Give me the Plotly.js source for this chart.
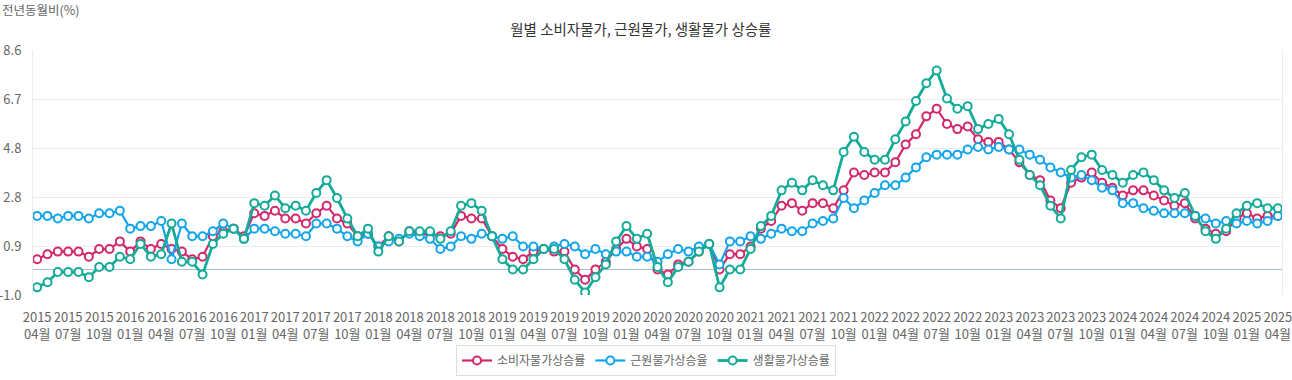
<!DOCTYPE html>
<html>
<head>
<meta charset="utf-8">
<script src="https://cdn.plot.ly/plotly-3.0.1.min.js"></script>
<style>
  html, body { margin: 0; padding: 0; background: #fff; }
  #chart { width: 1292px; height: 380px; }
</style>
</head>
<body>
<div id="chart"></div>
<script>
// Months (categories)
const months = [
  '2015-04','2015-05','2015-06','2015-07','2015-08','2015-09','2015-10','2015-11','2015-12',
  '2016-01','2016-02','2016-03','2016-04','2016-05','2016-06','2016-07','2016-08','2016-09','2016-10','2016-11','2016-12',
  '2017-01','2017-02','2017-03','2017-04','2017-05','2017-06','2017-07','2017-08','2017-09','2017-10','2017-11','2017-12',
  '2018-01','2018-02','2018-03','2018-04','2018-05','2018-06','2018-07','2018-08','2018-09','2018-10','2018-11','2018-12',
  '2019-01','2019-02','2019-03','2019-04','2019-05','2019-06','2019-07','2019-08','2019-09','2019-10','2019-11','2019-12',
  '2020-01','2020-02','2020-03','2020-04','2020-05','2020-06','2020-07','2020-08','2020-09','2020-10','2020-11','2020-12',
  '2021-01','2021-02','2021-03','2021-04','2021-05','2021-06','2021-07','2021-08','2021-09','2021-10','2021-11','2021-12',
  '2022-01','2022-02','2022-03','2022-04','2022-05','2022-06','2022-07','2022-08','2022-09','2022-10','2022-11','2022-12',
  '2023-01','2023-02','2023-03','2023-04','2023-05','2023-06','2023-07','2023-08','2023-09','2023-10','2023-11','2023-12',
  '2024-01','2024-02','2024-03','2024-04','2024-05','2024-06','2024-07','2024-08','2024-09','2024-10','2024-11','2024-12',
  '2025-01','2025-02','2025-03','2025-04'
];

// 소비자물가상승률 (%)
const cpi = [
  0.4,0.6,0.7,0.7,0.7,0.5,0.8,0.8,1.1,
  0.7,1.1,0.8,1.0,0.8,0.7,0.4,0.5,1.3,1.5,1.6,1.3,
  2.2,2.1,2.3,2.0,2.0,1.8,2.2,2.5,2.0,1.8,1.3,1.4,
  0.9,1.3,1.1,1.5,1.4,1.4,1.3,1.4,2.1,2.0,2.0,1.3,
  0.8,0.5,0.4,0.7,0.8,0.7,0.7,0.0,-0.4,0.0,0.3,0.8,
  1.2,0.9,0.8,0.0,-0.2,0.2,0.3,0.7,1.0,0.0,0.6,0.6,
  0.9,1.6,1.9,2.5,2.6,2.3,2.6,2.6,2.4,3.1,3.8,3.7,
  3.8,3.8,4.2,4.9,5.3,6.0,6.3,5.7,5.5,5.6,5.1,5.0,
  5.0,4.7,4.2,3.7,3.5,2.7,2.4,3.4,3.6,3.8,3.4,3.2,
  2.9,3.1,3.1,2.9,2.7,2.5,2.6,2.0,1.6,1.4,1.5,2.0,
  2.2,2.0,2.1,2.1
];

// 근원물가상승율 (%)
const core = [
  2.1,2.1,2.0,2.1,2.1,2.0,2.2,2.2,2.3,
  1.6,1.7,1.7,1.9,0.4,1.8,1.3,1.3,1.5,1.8,1.6,1.2,
  1.6,1.6,1.5,1.4,1.4,1.3,1.8,1.8,1.6,1.3,1.1,1.4,
  0.9,1.1,1.2,1.4,1.3,1.2,0.8,0.9,1.3,1.2,1.4,1.3,
  1.2,1.3,0.9,0.9,0.8,0.9,1.0,0.9,0.6,0.8,0.6,0.7,
  0.7,0.5,0.5,0.3,0.6,0.8,0.7,0.9,1.0,0.2,1.1,1.1,
  1.3,1.2,1.4,1.6,1.5,1.5,1.8,1.9,2.0,2.8,2.4,2.7,
  3.0,3.3,3.3,3.6,4.0,4.4,4.5,4.5,4.5,4.7,4.8,4.7,
  4.8,4.7,4.7,4.5,4.3,4.0,3.8,3.6,3.7,3.5,3.2,3.1,
  2.6,2.6,2.4,2.3,2.2,2.2,2.2,2.1,2.0,1.8,1.9,1.8,
  1.9,1.8,1.9,2.1
];

// 생활물가상승률 (%)
const living = [
  -0.7,-0.5,-0.1,-0.1,-0.1,-0.3,0.1,0.1,0.5,
  0.4,1.0,0.5,0.6,1.8,0.3,0.3,-0.2,1.0,1.4,1.6,1.2,
  2.6,2.5,2.9,2.4,2.5,2.3,3.0,3.5,2.8,2.0,1.3,1.6,
  0.7,1.3,1.1,1.5,1.5,1.5,1.2,1.5,2.5,2.6,2.3,1.3,
  0.4,0.0,0.0,0.4,0.8,0.8,0.4,-0.4,-0.9,-0.3,0.2,1.1,
  1.7,1.2,1.4,0.1,-0.5,0.1,0.3,0.7,1.0,-0.7,0.0,0.0,
  0.8,1.7,2.1,3.1,3.4,3.1,3.5,3.3,3.1,4.6,5.2,4.6,
  4.3,4.3,5.1,5.8,6.6,7.3,7.8,6.7,6.3,6.4,5.5,5.7,
  5.9,5.3,4.3,3.7,3.3,2.5,2.0,3.9,4.4,4.5,3.9,3.7,
  3.4,3.7,3.8,3.5,3.1,2.8,3.0,2.1,1.5,1.2,1.6,2.2,
  2.5,2.6,2.4,2.4
];

const seriesNames = ['소비자물가상승률', '근원물가상승율', '생활물가상승률'];
const seriesColors = ['#d2286c', '#12a5ec', '#14ab98'];

// Y axis ticks
const yTickVals = [-1.0, 0.92, 2.84, 4.76, 6.68, 8.6];
const yTickText = ['-1.0', '0.9', '2.8', '4.8', '6.7', '8.6'];

// X tick labels: every 3rd month
const xTickVals = months.filter((m, i) => i % 3 === 0);
const xTickText = xTickVals.map(m => m.slice(0, 4) + '<br>' + m.slice(5) + '월');

const FONT = '"Liberation Sans Narrow", "Noto Sans CJK KR", sans-serif';
const KFONT = '"Noto Sans CJK KR", sans-serif';

function mk(y, i, w) {
  return {
    x: months, y: y, name: seriesNames[i], type: 'scatter', mode: 'lines+markers',
    line: { color: seriesColors[i], width: w },
    marker: { symbol: 'circle', size: 8, color: '#ffffff', line: { color: seriesColors[i], width: 2 } },
    hoverinfo: 'x+y+name'
  };
}

const data = [mk(cpi, 0, 2.2), mk(core, 1, 2.2), mk(living, 2, 2.8)];

const layout = {
  width: 1292, height: 380,
  margin: { l: 33, r: 10, t: 50, b: 85, autoexpand: false },
  paper_bgcolor: '#ffffff', plot_bgcolor: '#ffffff',
  font: { family: KFONT, color: '#666666', size: 12 },
  title: {
    text: '월별 소비자물가, 근원물가, 생활물가 상승률',
    font: { family: KFONT, size: 14.5, color: '#333333' },
    x: 0.496, xanchor: 'center', xref: 'container',
    y: 1 - 30 / 380, yanchor: 'middle', yref: 'container'
  },
  xaxis: {
    type: 'category',
    range: [-0.4, 120.4],
    tickmode: 'array', tickvals: xTickVals, ticktext: xTickText,
    tickangle: 0, automargin: false,
    showgrid: false, zeroline: false, showline: false,
    ticks: 'outside', ticklen: 10, tickcolor: 'rgba(0,0,0,0)',
    tickfont: { family: FONT, size: 13, color: '#666666' }
  },
  yaxis: {
    range: [-1.0, 8.6], automargin: false,
    tickmode: 'array', tickvals: yTickVals, ticktext: yTickText,
    showgrid: true, gridcolor: '#ececec', gridwidth: 1,
    zeroline: true, zerolinecolor: '#a8bccf', zerolinewidth: 1,
    showline: true, mirror: true, linecolor: '#ececec', linewidth: 1,
    ticks: 'outside', ticklen: 8, tickcolor: 'rgba(0,0,0,0)',
    tickfont: { family: FONT, size: 13, color: '#666666' }
  },
  showlegend: true,
  legend: {
    orientation: 'h', x: 0.5, xanchor: 'center', xref: 'container',
    y: (380 - 345) / 380, yanchor: 'top', yref: 'container',
    bordercolor: '#dddddd', borderwidth: 1, bgcolor: '#ffffff',
    font: { family: KFONT, size: 12, color: '#666666' },
    itemwidth: 30, traceorder: 'normal'
  },
  annotations: [{
    text: '전년동월비(%)', xref: 'paper', yref: 'paper', x: 0, y: 1,
    xanchor: 'left', yanchor: 'middle', xshift: -33, yshift: 41,
    showarrow: false, font: { family: KFONT, size: 12.5, color: '#666666' }
  }]
};

Plotly.newPlot('chart', data, layout, { displayModeBar: false, staticPlot: true });
</script>
</body>
</html>
